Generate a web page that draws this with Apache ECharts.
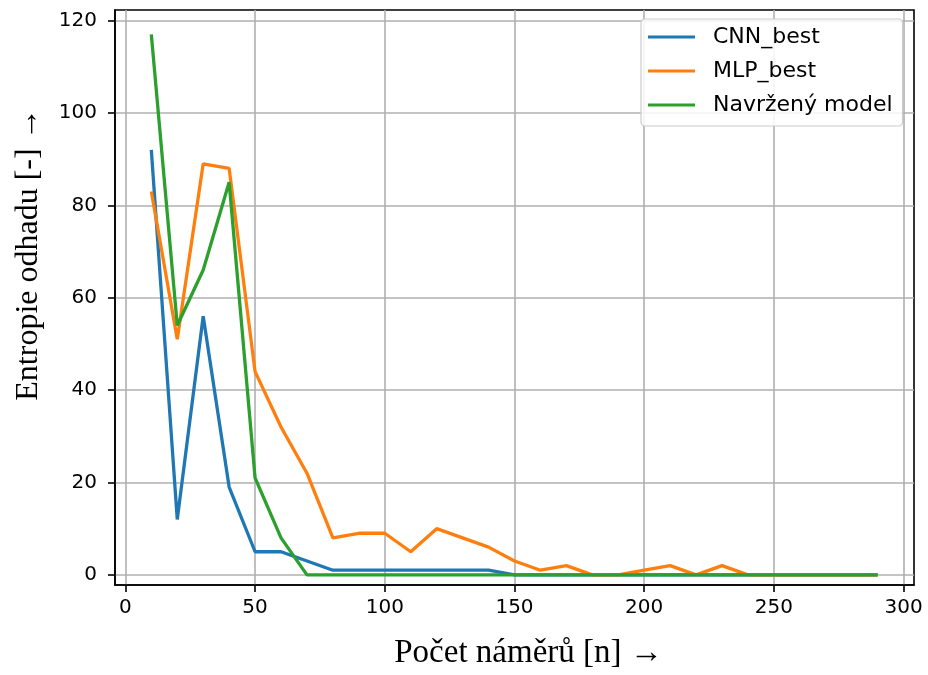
<!DOCTYPE html>
<html>
<head>
<meta charset="utf-8">
<script src="https://cdn.jsdelivr.net/npm/echarts@6/dist/echarts.min.js"></script>
<style>
html,body{margin:0;padding:0;background:#fff;}
#chart{width:928px;height:675px;}
</style>
</head>
<body>
<div id="chart"></div>
<script>
const xValues = [10,20,30,40,50,60,70,80,90,100,110,120,130,140,150,160,170,180,190,200,210,220,230,240,250,260,270,280,290];
const cnnBest = [92,12,56,19,5,5,3,1,1,1,1,1,1,1,0,0,0,0,0,0,0,0,0,0,0,0,0,0,0];
const mlpBest = [83,51,89,88,44,32,22,8,9,9,5,10,8,6,3,1,2,0,0,1,2,0,2,0,0,0,0,0,0];
const navrzeny = [117,54,66,85,21,8,0,0,0,0,0,0,0,0,0,0,0,0,0,0,0,0,0,0,0,0,0,0,0];
const xTicks = [0,50,100,150,200,250,300];
const yTicks = [0,20,40,60,80,100,120];
const seriesNames = ['CNN_best','MLP_best','Navržený model'];
const colors = ['#1f77b4','#ff7f0e','#2ca02c'];

const pairs = arr => xValues.map((x,i)=>[x,arr[i]]);
const dataSets = [cnnBest, mlpBest, navrzeny];

const chart = echarts.init(document.getElementById('chart'));
const axisLine = {show:true,onZero:false,lineStyle:{color:'#000',width:1.6}};
const axisTick = {show:true,inside:false,length:7,lineStyle:{color:'#000',width:1.6}};
const splitLine = {show:true,lineStyle:{color:'#b0b0b0',width:1.6}};
const labelStyle = {color:'#000',fontFamily:'DejaVu Sans',fontSize:20};
chart.setOption({
  animation:false,
  backgroundColor:'#fff',
  grid:{left:115,right:14,top:10,bottom:88,containLabel:false,show:true,borderColor:'#000',borderWidth:1.6,backgroundColor:'transparent'},
  xAxis:{
    type:'value',min:-4,max:304,
    name:'Počet náměrů [n] →',nameLocation:'middle',nameGap:52,
    nameTextStyle:{fontFamily:'Liberation Serif',fontSize:33,color:'#000',padding:[0,0,0,28]},
    axisLine:axisLine,
    axisTick:Object.assign({},axisTick,{customValues:xTicks}),
    splitLine:splitLine,
    axisLabel:Object.assign({},labelStyle,{margin:13,customValues:xTicks})
  },
  yAxis:{
    type:'value',min:-2.2,max:122.3,
    name:'Entropie odhadu [-] →',nameLocation:'middle',nameGap:70,nameRotate:90,
    nameTextStyle:{fontFamily:'Liberation Serif',fontSize:32,color:'#000',padding:[0,0,0,86]},
    axisLine:axisLine,
    axisTick:Object.assign({},axisTick,{customValues:yTicks}),
    splitLine:splitLine,
    axisLabel:Object.assign({},labelStyle,{margin:18,customValues:yTicks})
  },
  legend:{
    orient:'vertical',left:641,top:19,
    padding:[7,10,10,7],
    backgroundColor:'rgba(255,255,255,0.85)',
    borderColor:'#cccccc',borderWidth:1.2,borderRadius:4,
    itemWidth:47,itemHeight:3,itemGap:12,icon:'rect',
    textStyle:{fontFamily:'DejaVu Sans',fontSize:22,color:'#000',padding:[0,0,0,13]},
    data:seriesNames
  },
  series:seriesNames.map((n,i)=>({
    name:n,type:'line',data:pairs(dataSets[i]),
    showSymbol:false,symbol:'none',
    lineStyle:{color:colors[i],width:3.3},
    itemStyle:{color:colors[i]},
    z:2+i
  }))
});
</script>
</body>
</html>
